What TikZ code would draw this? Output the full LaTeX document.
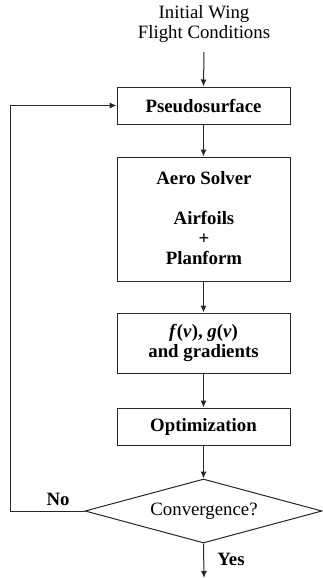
\documentclass[tikz,border=0pt]{standalone}
\usepackage{fontspec}
\setmainfont{Liberation Serif}
\usetikzlibrary{arrows.meta,shapes.geometric}
\begin{document}
\begin{tikzpicture}[x=1pt,y=-1pt,
  line width=1pt, draw=black!85,
  box/.style={draw=black!85, line width=1pt, rectangle, minimum width=173pt, inner sep=0pt, font=\fontsize{18.8}{20}\selectfont\bfseries, align=center},
  txt/.style={font=\fontsize{18.8}{20}\selectfont, align=center, inner sep=0pt},
  lbl/.style={font=\fontsize{18.8}{20}\selectfont\bfseries, inner sep=0pt},
  arr/.style={-{Latex[length=7pt,width=6pt]}, draw=black!85, line width=1pt}]
\useasboundingbox (0,0) rectangle (323,578);
\node[txt] (init) at (204,24) {Initial Wing\\Flight Conditions};
\node[box, minimum height=37pt] (ps) at (203.5,105.5) {Pseudosurface};
\node[box, minimum height=124pt] (aero) at (203.5,219) {};
\node[lbl] (aerot) at (204,178) {Aero Solver};
\node[txt, font=\fontsize{18.8}{20}\selectfont\bfseries] (airf) at (204,238) {Airfoils\\+\\Planform};
\node[box, minimum height=60pt] (fg) at (203.5,343) {\textbf{\textit{f}}(\textbf{\textit{v}}), \textbf{\textit{g}}(\textbf{\textit{v}})\\and gradients};
\node[box, minimum height=37pt] (opt) at (203.5,426.5) {Optimization};
\node[draw=black!85, line width=1pt, diamond, aspect=3.7, minimum width=237pt, minimum height=64pt, inner sep=0pt] (conv) at (203.5,511) {};
\node[txt] (convt) at (204,511) {Convergence?};
\node[lbl] (no) at (58,499) {No};
\node[lbl] (yes) at (231,559) {Yes};
\coordinate (end) at (204,578);
\coordinate (fbl) at (10,511);
\coordinate (fbt) at (10,105.5);
\draw[arr] (204,52) -- (ps.north);
\draw[arr] (ps.south) -- (aero.north);
\draw[arr] (aero.south) -- (fg.north);
\draw[arr] (fg.south) -- (opt.north);
\draw[arr] (opt.south) -- (conv.north);
\draw[arr] (conv.south) -- (end);
\draw[arr] (conv.west) -- (fbl) -- (fbt) -- (ps.west);
\end{tikzpicture}
\end{document}
